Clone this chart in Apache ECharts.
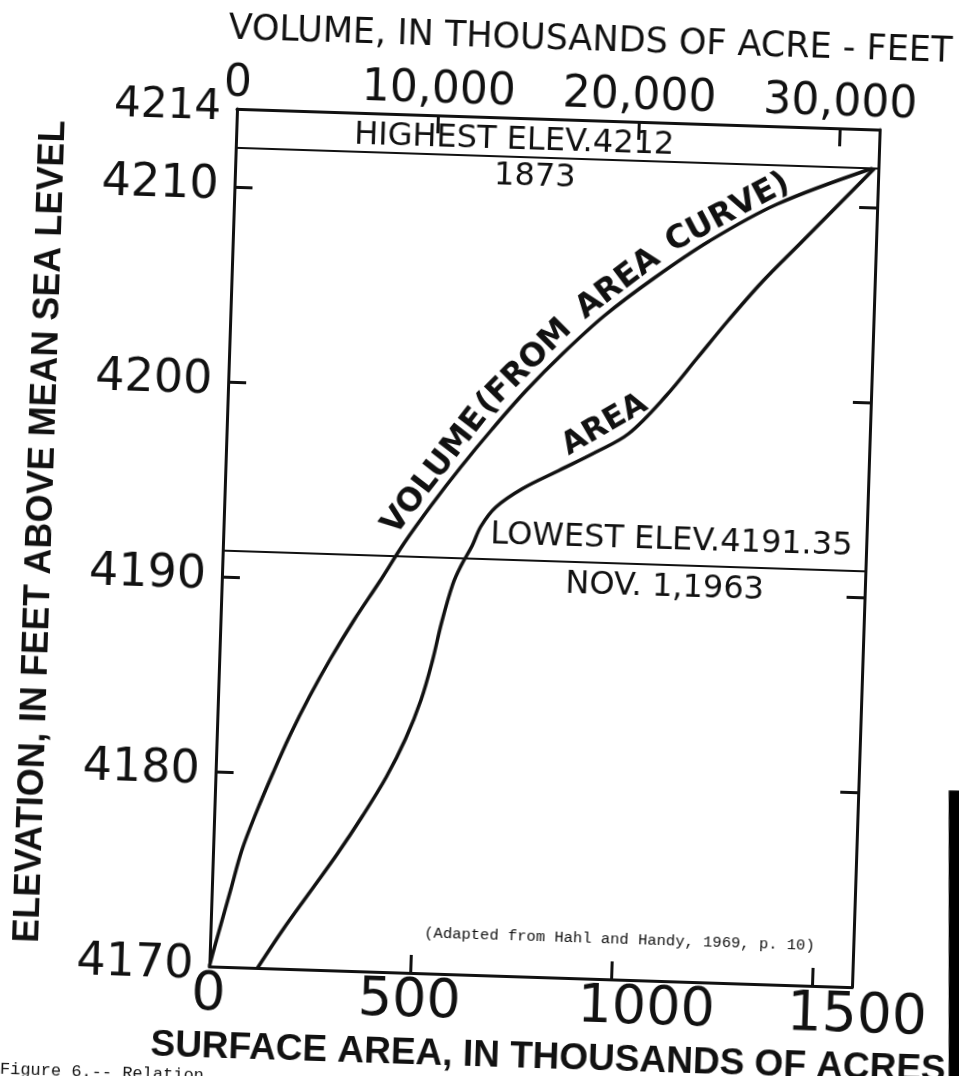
<!DOCTYPE html>
<html>
<head>
<meta charset="utf-8">
<script src="https://cdn.jsdelivr.net/npm/echarts@6/dist/echarts.min.js"></script>
<style>
  html, body { margin: 0; padding: 0; width: 959px; height: 1076px; overflow: hidden; background: #fff; }
  /* the drawing sits slightly turned on the sheet */
  #sheet { position: absolute; left: -60px; top: -60px; width: 1080px; height: 1200px;
           transform-origin: 604.5px 608px; transform: rotate(1.85deg); }
</style>
</head>
<body>
<div id="sheet"></div>
<script>
// Great Salt Lake: surface area and volume against lake elevation

// area curve: elevation (ft) and surface area (thousands of acres)
const areaElevation = [4170, 4172, 4174, 4176, 4178, 4180, 4182, 4184, 4186, 4188, 4190, 4191, 4192,
                       4193, 4194, 4195, 4196, 4197, 4198, 4200, 4202, 4204, 4206, 4208, 4210, 4212];
const areaKAcres    = [120, 180, 245, 310, 370, 425, 470, 505, 530, 550, 575, 595, 620,
                       640, 675, 740, 830, 920, 1000, 1090, 1165, 1240, 1320, 1410, 1500, 1590];

// volume curve: elevation (ft) and volume (thousands of acre-feet)
const volumeElevation = [4170, 4171, 4172, 4174, 4176, 4178, 4180, 4182, 4184, 4186, 4188, 4190,
                         4192, 4194, 4196, 4198, 4200, 4202, 4204, 4206, 4208, 4210, 4212];
const volumeKAcreFt   = [0, 230, 470, 950, 1430, 2100, 2850, 3650, 4550, 5550, 6650, 7850,
                         9000, 10300, 11700, 13200, 14800, 16600, 18600, 21000, 23700, 27000, 31700];

// reference levels
const highestElev = 4212;
const lowestElev = 4191.35;

// tick labels
const elevLabels = [4170, 4180, 4190, 4200, 4210, 4214];
const elevTicks = [4180, 4190, 4200, 4210];
const areaLabels = [0, 500, 1000, 1500];
const areaTicks = [500, 1000, 1500];
const volumeLabels = [0, 10000, 20000, 30000];
const volumeTicks = [10000, 20000, 30000];

const HAND = 'DejaVu Sans';
const INK = '#111';

const chart = echarts.init(document.getElementById('sheet'), null, { renderer: 'canvas' });

const axisLine = { show: true, onZero: false, lineStyle: { color: INK, width: 3 } };
const tick = (vals) => ({ show: true, inside: true, length: 18, customValues: vals,
                          lineStyle: { color: INK, width: 3 } });
// invisible anchor points that only carry a label
const anchorStyle = { color: 'rgba(0,0,0,0)', opacity: 1 };

const areaPairs = areaElevation.map((e, i) => [areaKAcres[i], e]);
const volumePairs = volumeElevation.map((e, i) => [volumeKAcreFt[i], e]);

// hand-lettered area labels drift a little to the right of their ticks
const areaLabelText = (v) => v >= 1500 ? '{far|' + v + '}' : v >= 1000 ? '{mid|' + v + '}' : String(v);

const option = {
  animation: false,
  backgroundColor: '#fff',
  grid: { left: 283, top: 179, width: 643, height: 858, containLabel: false },
  xAxis: [
    {
      type: 'value', position: 'bottom', min: 0, max: 1600, interval: 500,
      axisLine, axisTick: tick(areaTicks), splitLine: { show: false },
      axisLabel: { customValues: areaLabels, fontSize: 54, fontFamily: HAND, color: INK, margin: 2,
                   formatter: areaLabelText,
                   rich: { mid: { fontSize: 54, fontFamily: HAND, color: INK, padding: [0, 0, 0, 72] },
                           far: { fontSize: 55, fontFamily: HAND, color: INK, padding: [0, 0, 0, 92] } } },
      name: 'SURFACE AREA, IN THOUSANDS OF ACRES', nameLocation: 'middle', nameGap: 58,
      nameTextStyle: { fontSize: 37, fontWeight: 'bold', fontFamily: 'Liberation Sans', color: INK,
                       padding: [0, 0, 0, 40] }
    },
    {
      type: 'value', position: 'top', min: 0, max: 32000, interval: 10000,
      axisLine, axisTick: tick(volumeTicks), splitLine: { show: false },
      axisLabel: { customValues: volumeLabels, fontSize: 44, fontFamily: HAND, color: INK, margin: 2,
                   formatter: (v) => v.toLocaleString('en-US') },
      name: 'VOLUME, IN THOUSANDS OF ACRE - FEET', nameLocation: 'middle', nameGap: 62,
      nameTextStyle: { fontSize: 35, fontFamily: HAND, color: INK, padding: [0, 0, 0, 59] }
    }
  ],
  yAxis: [
    {
      type: 'value', position: 'left', min: 4170, max: 4214, interval: 10,
      axisLine, axisTick: tick(elevTicks), splitLine: { show: false },
      axisLabel: { customValues: elevLabels, fontSize: 46, fontFamily: HAND, color: INK, margin: 16,
                   formatter: (v) => v === 4214 ? '{s|4214}' : String(v),
                   rich: { s: { fontSize: 42, fontFamily: HAND, color: INK } } },
      name: 'ELEVATION, IN FEET ABOVE MEAN SEA LEVEL', nameLocation: 'middle', nameGap: 164, nameRotate: 90,
      nameTextStyle: { fontSize: 36, fontWeight: 'bold', fontFamily: 'Liberation Sans', color: INK }
    },
    {
      type: 'value', position: 'right', min: 4170, max: 4214, interval: 10,
      axisLine, axisTick: tick(elevTicks), splitLine: { show: false },
      axisLabel: { show: false }
    }
  ],
  series: [
    {
      name: 'Area', type: 'line', xAxisIndex: 0, yAxisIndex: 0, data: areaPairs,
      smooth: 0.35, showSymbol: false, silent: true,
      lineStyle: { color: INK, width: 3.5 },
      markLine: {
        silent: true, symbol: ['none', 'none'], animation: false,
        label: { show: false },
        lineStyle: { color: INK, width: 2.2, type: 'solid' },
        data: [{ yAxis: highestElev }, { yAxis: lowestElev }]
      }
    },
    {
      name: 'Volume', type: 'line', xAxisIndex: 1, yAxisIndex: 0, data: volumePairs,
      smooth: 0.35, showSymbol: false, silent: true,
      lineStyle: { color: INK, width: 3.5 }
    },
    {
      // notes on the two reference levels, the area curve and the source
      name: 'notes', type: 'scatter', xAxisIndex: 0, yAxisIndex: 0, silent: true,
      symbolSize: 1, itemStyle: anchorStyle,
      label: { show: true, position: 'inside', formatter: '{b}', fontSize: 32, fontFamily: HAND,
               color: INK, opacity: 1 },
      data: [
        { name: 'HIGHEST ELEV.4212', value: [692, 4212.82] },
        { name: '1873', value: [746, 4210.97] },
        { name: 'LOWEST ELEV.4191.35', value: [1115, 4192.56] },
        { name: 'NOV. 1,1963', value: [1102, 4190.15] },
        { name: 'AREA', value: [940, 4198.4], label: { rotate: 32, fontWeight: 'bold', fontSize: 31 } },
        { name: '(Adapted from Hahl and Handy, 1969, p. 10)', value: [1018, 4172.05],
          label: { fontFamily: 'Liberation Mono', fontSize: 15.5 } }
      ]
    },
    {
      // curve name lettered along the volume curve
      name: 'volume words', type: 'scatter', xAxisIndex: 1, yAxisIndex: 0, silent: true,
      symbolSize: 1, itemStyle: anchorStyle,
      label: { show: true, position: 'inside', formatter: '{b}', fontSize: 32, fontWeight: 'bold',
               fontFamily: HAND, color: INK, opacity: 1 },
      data: [
        { name: 'VOLUME', value: [10431, 4195.74], label: { rotate: 54 } },
        { name: '(FROM', value: [14716, 4201.25], label: { rotate: 47 } },
        { name: 'AREA', value: [19245, 4205.66], label: { rotate: 39 } },
        { name: 'CURVE)', value: [24585, 4209.47], label: { rotate: 30 } }
      ]
    }
  ],
  graphic: [
    {
      type: 'text', x: 77, y: 1138, silent: true,
      style: { text: 'Figure 6.-- Relation', fontSize: 17, fontFamily: 'Liberation Mono', fill: INK }
    },
    {
      // dark strip along the right edge of the sheet
      type: 'rect', x: 1027, y: 982, rotation: 0.0323, silent: true,
      shape: { x: -6, y: -145, width: 12, height: 300 },
      style: { fill: '#000' }
    }
  ]
};

chart.setOption(option);
</script>
</body>
</html>
